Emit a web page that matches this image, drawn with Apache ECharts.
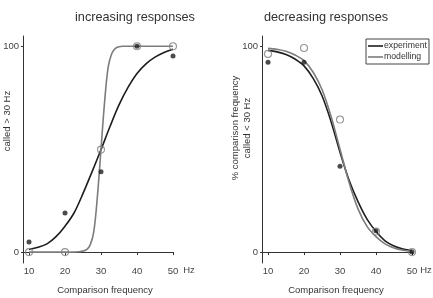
<!DOCTYPE html>
<html>
<head>
<meta charset="utf-8">
<script src="https://cdn.jsdelivr.net/npm/echarts@6/dist/echarts.min.js"></script>
<style>
  html, body { margin: 0; padding: 0; background: #fff; }
  #chart { width: 433px; height: 298px; }
</style>
</head>
<body>
<div id="chart"></div>
<script>
// measured points (Hz, %)
const freqs = [10, 20, 30, 40, 50]
const incExp = [4.9, 19, 39, 100, 95.3]
const incModel = [0, 0, 49.8, 100, 100]
const decExp = [92.3, 92.3, 41.7, 10.4, 0]
const decModel = [96.3, 99.2, 64.4, 10, 0]

// fitted curves
const fitX = [10, 12.5, 15, 17.5, 20, 22.5, 25, 27.5, 30, 32.5, 35, 37.5, 40, 42.5, 45, 47.5, 50]
const incExpFit = [1.3, 2.3, 4, 7.5, 12.6, 19, 28.5, 39, 49.8, 61, 71.5, 80, 86.8, 91.5, 94.7, 97, 98.6]
const decExpFit = [98, 97.3, 96, 93.8, 90.5, 84.5, 76, 63.5, 48.5, 35, 24.5, 16, 10, 5.5, 3, 1.5, 0.7]
const decModelFit = [99, 98.5, 97.6, 95.8, 93, 87.5, 79, 66, 50, 34, 21, 12.5, 7.5, 4, 2, 0.9, 0.3]
const incModelFitX = [10, 14, 18, 22, 24, 25, 26, 27, 28, 29, 30, 31, 32, 33, 34, 35, 36, 38, 42, 46, 50]
const incModelFit = [0, 0, 0, 0, 0.2, 0.5, 1.2, 3.5, 10, 27, 50, 73, 90, 96.5, 99, 99.8, 100, 100, 100, 100, 100]

const xTicks = [10, 20, 30, 40, 50]
const yTicks = [0, 100]

const dark = '#1e1e1e'
const grey = '#7c7c7c'
const font = 'Liberation Sans, Arial, sans-serif'

const pairs = (xs, ys) => xs.map((x, i) => [x, ys[i]])

function xAxisOpt(idx) {
  return {
    type: 'value', gridIndex: idx, min: 8.33, max: 50,
    axisLine: { lineStyle: { color: '#333', width: 1 } },
    axisTick: { show: true, length: 3, customValues: xTicks, lineStyle: { color: '#333' } },
    axisLabel: { customValues: xTicks, margin: 3, fontSize: 9.5, color: '#444', fontFamily: font },
    splitLine: { show: false }
  }
}
function yAxisOpt(idx) {
  return {
    type: 'value', gridIndex: idx, min: -5.3, max: 105,
    axisLine: { show: true, lineStyle: { color: '#333', width: 1 } },
    axisTick: { show: true, length: 2, customValues: yTicks, lineStyle: { color: '#333' } },
    axisLabel: { customValues: yTicks, margin: 4, fontSize: 9.5, color: '#444', fontFamily: font },
    splitLine: { show: false }
  }
}
function curve(name, idx, xs, ys, color) {
  return {
    name: name, type: 'line', xAxisIndex: idx, yAxisIndex: idx,
    data: pairs(xs, ys), smooth: 0.35, showSymbol: false,
    lineStyle: { color: color, width: 1.6 }, itemStyle: { color: color }, z: 2
  }
}
function dots(idx, ys, open) {
  return {
    type: 'scatter', xAxisIndex: idx, yAxisIndex: idx,
    data: pairs(freqs, ys), symbol: 'circle', symbolSize: open ? 7 : 5,
    itemStyle: open
      ? { color: 'rgba(255,255,255,0)', borderColor: grey, borderWidth: 1.1 }
      : { color: dark },
    z: 3
  }
}
function label(x, y, text, size, color, rot) {
  return {
    type: 'text', x: x, y: y, rotation: rot || 0,
    style: { text: text, align: 'center', verticalAlign: 'middle', lineHeight: 12,
      fontSize: size, fill: color, fontFamily: font }
  }
}

const chart = echarts.init(document.getElementById('chart'), null, { renderer: 'canvas' })
const option = {
  backgroundColor: '#fff',
  animation: false,
  textStyle: { fontFamily: font },
  legend: {
    data: ['experiment', 'modelling'],
    orient: 'vertical', left: 366, top: 39,
    padding: [2, 2, 2, 2], itemGap: 1,
    itemWidth: 15, itemHeight: 1.6, icon: 'rect',
    borderColor: '#444', borderWidth: 1,
    textStyle: { fontSize: 8.7, lineHeight: 10, color: '#333', fontFamily: font, padding: [0, 0, 0, -4] }
  },
  grid: [
    { left: 23, right: 260, top: 36, bottom: 35 },
    { left: 262, right: 21, top: 36, bottom: 35 }
  ],
  xAxis: [xAxisOpt(0), xAxisOpt(1)],
  yAxis: [yAxisOpt(0), yAxisOpt(1)],
  graphic: [
    label(135, 17, 'increasing responses', 12.7, '#333'),
    label(326, 17, 'decreasing responses', 12.7, '#333'),
    label(105, 290, 'Comparison frequency', 9.5, '#333'),
    label(336, 290, 'Comparison frequency', 9.5, '#333'),
    label(189, 270, 'Hz', 9.5, '#444'),
    label(426, 270, 'Hz', 9.5, '#444'),
    label(1, 121, '% comparison frequency\ncalled > 30 Hz', 9.5, '#333', Math.PI / 2),
    label(241, 128, '% comparison frequency\ncalled < 30 Hz', 9.5, '#333', Math.PI / 2)
  ],
  series: [
    curve('experiment', 0, fitX, incExpFit, dark),
    curve('modelling', 0, incModelFitX, incModelFit, grey),
    dots(0, incExp, false),
    dots(0, incModel, true),
    curve('experiment', 1, fitX, decExpFit, dark),
    curve('modelling', 1, fitX, decModelFit, grey),
    dots(1, decExp, false),
    dots(1, decModel, true)
  ]
}
chart.setOption(option)
</script>
</body>
</html>
